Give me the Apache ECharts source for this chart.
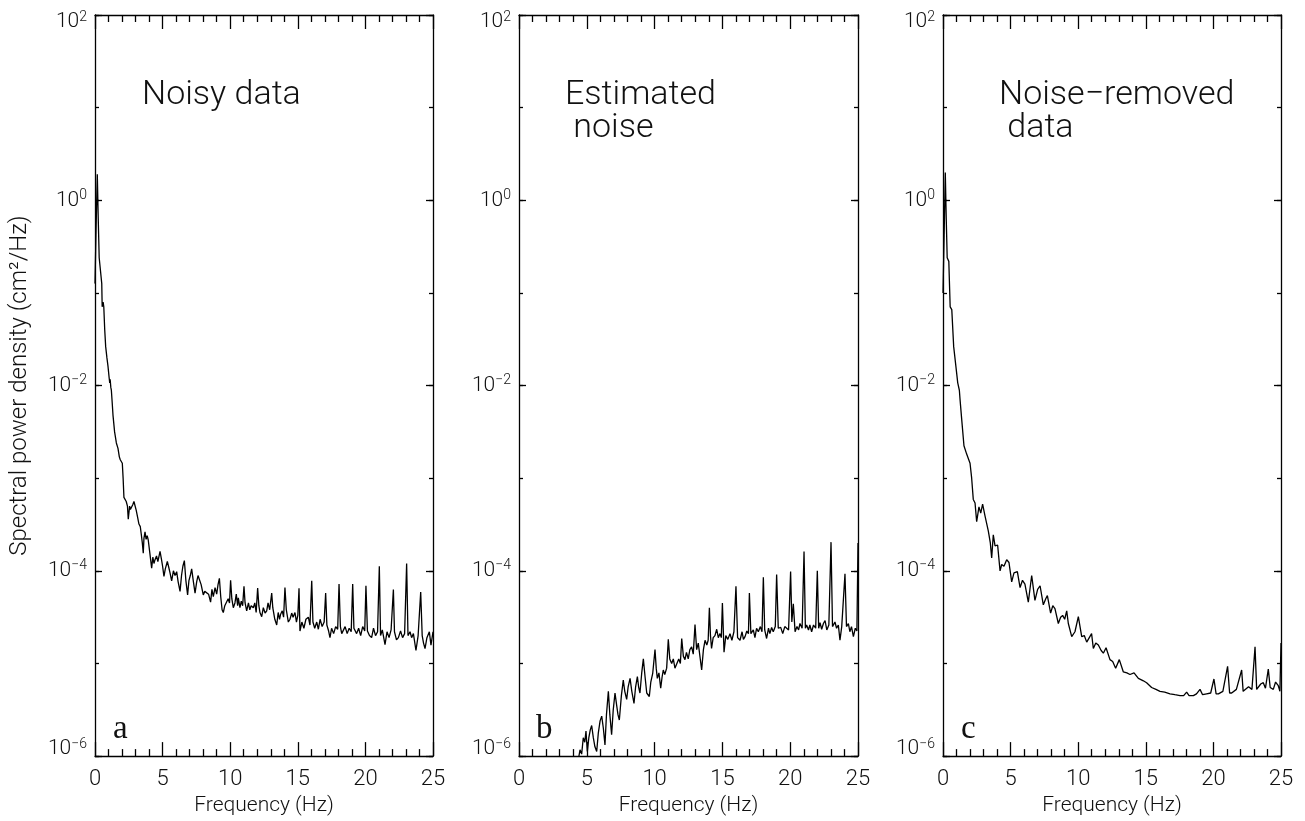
<!DOCTYPE html>
<html>
<head>
<meta charset="utf-8">
<script src="https://cdn.jsdelivr.net/npm/echarts@6/dist/echarts.min.js"></script>
<style>
html,body{margin:0;padding:0;background:#fff;}
#chart{width:1305px;height:821px;}
</style>
</head>
<body>
<div id="chart"></div>
<script>
// ---------------- data ----------------
const panelTitles = [["Noisy data"], ["Estimated", " noise"], ["Noise\u2212removed", " data"]];
const panelLetters = ["a", "b", "c"];
const xTickLabels = [0, 5, 10, 15, 20, 25];
const yExponents = [-6, -4, -2, 0, 2];

// Panel a : noisy data
const freqA = [0,0.08,0.17,0.24,0.31,0.43,0.50,0.53,0.60,0.65,0.72,0.79,0.88,0.96,1.05,1.09,1.12,1.17,1.21,1.27,1.33,1.45,1.58,1.70,1.80,1.87,2.02,2.08,2.14,2.22,2.31,2.40,2.46,2.56,2.62,2.70,2.80,2.88,2.96,3.05,3.15,3.25,3.35,3.42,3.50,3.57,3.62,3.70,3.78,3.86,3.94,4.05,4.19,4.28,4.36,4.44,4.55,4.65,4.81,4.92,5.00,5.10,5.20,5.35,5.45,5.55,5.67,5.80,5.92,6.04,6.15,6.29,6.40,6.50,6.61,6.72,6.85,6.95,7.05,7.15,7.28,7.40,7.52,7.62,7.72,7.85,8.01,8.12,8.26,8.40,8.55,8.65,8.75,8.88,9.00,9.10,9.20,9.30,9.40,9.49,9.60,9.74,9.85,9.95,10.03,10.12,10.23,10.35,10.45,10.55,10.60,10.72,10.82,10.92,11.02,11.10,11.22,11.35,11.45,11.55,11.71,11.82,11.92,12.03,12.12,12.20,12.33,12.45,12.58,12.70,12.80,12.92,13.07,13.15,13.30,13.44,13.55,13.65,13.73,13.85,13.95,14.05,14.15,14.30,14.42,14.55,14.65,14.79,14.90,15.00,15.09,15.16,15.30,15.45,15.60,15.78,15.90,16.03,16.12,16.25,16.40,16.52,16.65,16.80,16.95,17.06,17.15,17.28,17.38,17.50,17.65,17.80,17.95,18.05,18.15,18.25,18.37,18.50,18.65,18.80,18.95,19.06,19.15,19.35,19.50,19.65,19.80,19.95,20.04,20.15,20.30,20.46,20.60,20.75,20.90,21.03,21.12,21.25,21.45,21.60,21.75,21.90,22.07,22.15,22.30,22.44,22.60,22.75,22.90,23.05,23.15,23.30,23.42,23.55,23.74,23.90,24.09,24.20,24.30,24.41,24.55,24.73,24.85,25.00];
const psdA = [0.126,0.50,1.91,0.63,0.24,0.229,0.126,0.0708,0.0794,0.0708,0.0398,0.0263,0.0200,0.0162,0.0120,0.0107,0.0117,0.00955,0.0089,0.0066,0.0048,0.00316,0.0024,0.0021,0.0017,0.00158,0.00145,0.0010,6.2e-4,5.9e-4,5.6e-4,5.0e-4,3.6e-4,5.0e-4,4.6e-4,4.8e-4,5.2e-4,5.6e-4,5.5e-4,4.5e-4,3.8e-4,3.2e-4,3.0e-4,2.5e-4,2.0e-4,1.55e-4,2.24e-4,2.63e-4,2.19e-4,2.4e-4,2.14e-4,1.58e-4,1.07e-4,1.41e-4,1.20e-4,1.32e-4,1.45e-4,1.26e-4,1.62e-4,1.32e-4,1.12e-4,8.7e-5,1.05e-4,1.26e-4,1.10e-4,9.5e-5,7.8e-5,1.0e-4,8.9e-5,9.8e-5,7.6e-5,6.0e-5,8.9e-5,1.12e-4,1.29e-4,7.9e-5,5.5e-5,7.9e-5,8.9e-5,1.05e-4,7.6e-5,5.75e-5,7.6e-5,8.9e-5,9.1e-5,7.1e-5,5.5e-5,6.0e-5,6.3e-5,5.6e-5,4.6e-5,6.3e-5,5.25e-5,6.6e-5,5.6e-5,7.1e-5,8.3e-5,5.25e-5,3.8e-5,3.55e-5,4.2e-5,4.4e-5,5.0e-5,4.5e-5,7.9e-5,5.0e-5,4.0e-5,4.5e-5,5.6e-5,4.2e-5,5.1e-5,4.0e-5,4.7e-5,4.2e-5,6.8e-5,4.5e-5,3.7e-5,4.5e-5,3.8e-5,4.2e-5,4.0e-5,4.5e-5,3.55e-5,6.5e-5,4.2e-5,3.55e-5,3.2e-5,4.0e-5,3.5e-5,3.7e-5,4.5e-5,3.8e-5,5.75e-5,4.0e-5,3.0e-5,2.6e-5,3.55e-5,3.0e-5,3.4e-5,3.7e-5,3.16e-5,6.6e-5,3.8e-5,2.8e-5,3.0e-5,3.5e-5,3.16e-5,3.55e-5,2.8e-5,3.3e-5,6.5e-5,2.24e-5,2.8e-5,2.4e-5,3.0e-5,3.16e-5,2.6e-5,7.8e-5,2.8e-5,2.4e-5,2.8e-5,2.34e-5,3.0e-5,2.5e-5,2.8e-5,5.75e-5,2.6e-5,2.24e-5,1.9e-5,2.4e-5,2.1e-5,2.5e-5,2.34e-5,7.2e-5,2.5e-5,2.1e-5,2.2e-5,2.5e-5,2.1e-5,2.4e-5,2.2e-5,7.2e-5,2.4e-5,2.1e-5,2.4e-5,2.0e-5,2.5e-5,2.24e-5,6.9e-5,2.24e-5,2.0e-5,1.9e-5,2.4e-5,2.0e-5,2.2e-5,1.12e-4,2.0e-5,2.3e-5,1.6e-5,2.2e-5,1.9e-5,2.3e-5,6.3e-5,2.2e-5,1.8e-5,1.9e-5,2.24e-5,1.9e-5,2.1e-5,1.2e-4,2.0e-5,2.2e-5,1.9e-5,2.1e-5,1.38e-5,2.0e-5,5.9e-5,2.0e-5,1.66e-5,1.45e-5,1.9e-5,2.2e-5,1.58e-5,2.2e-5];

// Panel b : estimated noise
const freqB = [4.00,4.30,4.50,4.62,4.74,4.85,4.94,5.04,5.15,5.25,5.36,5.48,5.60,5.73,5.85,5.98,6.10,6.22,6.34,6.45,6.59,6.70,6.83,6.95,7.08,7.20,7.30,7.40,7.55,7.69,7.80,7.94,8.05,8.19,8.32,8.48,8.60,8.73,8.82,8.92,9.05,9.17,9.30,9.42,9.52,9.61,9.72,9.86,10.03,10.12,10.20,10.32,10.45,10.55,10.64,10.75,10.89,11.01,11.12,11.26,11.38,11.50,11.63,11.78,11.90,12.00,12.12,12.24,12.35,12.48,12.60,12.73,12.85,12.98,13.10,13.22,13.35,13.47,13.60,13.72,13.85,13.95,14.04,14.12,14.20,14.32,14.45,14.58,14.70,14.82,14.92,15.00,15.12,15.25,15.40,15.56,15.70,15.85,16.00,16.12,16.30,16.45,16.55,16.67,16.80,16.92,16.99,17.10,17.28,17.40,17.52,17.65,17.80,17.92,18.02,18.12,18.26,18.40,18.50,18.63,18.75,18.90,19.00,19.12,19.30,19.45,19.60,19.74,19.88,20.03,20.12,20.23,20.36,20.50,20.62,20.72,20.88,21.02,21.12,21.21,21.35,21.45,21.58,21.72,21.88,22.00,22.10,22.20,22.32,22.45,22.57,22.70,22.85,23.01,23.12,23.30,23.42,23.55,23.67,23.80,23.92,24.04,24.15,24.29,24.40,24.52,24.66,24.80,24.92,25.00];
const psdB = [5.0e-7,7.9e-7,1.17e-6,1.05e-6,1.58e-6,1.41e-6,1.86e-6,1.12e-6,1.58e-6,1.9e-6,2.14e-6,1.58e-6,1.26e-6,1.12e-6,1.78e-6,2.4e-6,2.7e-6,2.0e-6,1.32e-6,2.8e-6,5.0e-6,2.8e-6,1.7e-6,3.16e-6,4.8e-6,3.55e-6,2.8e-6,2.45e-6,4.5e-6,6.6e-6,5.0e-6,4.1e-6,5.6e-6,6.9e-6,5.0e-6,3.7e-6,5.6e-6,7.2e-6,5.6e-6,4.8e-6,7.9e-6,1.12e-5,7.1e-6,4.8e-6,5.0e-6,4.4e-6,6.3e-6,7.8e-6,1.41e-5,8.9e-6,6.9e-6,7.9e-6,5.4e-6,7.1e-6,8.5e-6,7.6e-6,8.9e-6,1.82e-5,1.12e-5,1.0e-5,1.12e-5,8.9e-6,8.5e-6,1.12e-5,1.0e-5,1.86e-5,1.2e-5,1.1e-5,1.32e-5,1.12e-5,1.41e-5,1.51e-5,1.26e-5,2.63e-5,1.41e-5,1.66e-5,1.58e-5,8.5e-6,1.41e-5,1.78e-5,1.58e-5,1.78e-5,3.98e-5,2.0e-5,1.45e-5,1.9e-5,2.0e-5,2.34e-5,1.9e-5,2.1e-5,1.9e-5,4.5e-5,1.32e-5,2.0e-5,1.82e-5,2.1e-5,1.78e-5,2.2e-5,6.8e-5,1.9e-5,1.78e-5,2.2e-5,1.82e-5,1.95e-5,2.24e-5,2.1e-5,5.75e-5,2.1e-5,2.3e-5,1.9e-5,2.4e-5,2.2e-5,2.5e-5,2.2e-5,8.5e-5,2.3e-5,1.86e-5,2.4e-5,2.1e-5,2.45e-5,2.2e-5,2.5e-5,9.1e-5,2.4e-5,2.45e-5,2.1e-5,2.5e-5,2.6e-5,2.3e-5,9.8e-5,2.8e-5,4.4e-5,2.2e-5,2.5e-5,2.3e-5,2.7e-5,2.4e-5,1.62e-4,2.4e-5,2.6e-5,2.3e-5,2.6e-5,2.2e-5,2.6e-5,2.4e-5,1.0e-4,2.4e-5,2.75e-5,2.34e-5,2.7e-5,2.9e-5,2.3e-5,2.6e-5,2.04e-4,2.5e-5,2.8e-5,2.4e-5,2.6e-5,1.78e-5,2.5e-5,2.4e-5,9.3e-5,2.5e-5,2.7e-5,2.2e-5,2.5e-5,1.95e-5,2.4e-5,2.24e-5,2.0e-4];

// Panel c : noise-removed data
const freqC = [0.00,0.08,0.17,0.24,0.31,0.43,0.53,0.65,0.79,0.96,1.09,1.21,1.26,1.38,1.55,1.75,2.00,2.12,2.24,2.37,2.49,2.66,2.79,2.93,3.11,3.35,3.50,3.60,3.72,3.85,4.04,4.22,4.34,4.51,4.71,4.88,5.08,5.25,5.50,5.70,5.88,6.06,6.31,6.56,6.80,7.00,7.18,7.42,7.60,7.72,7.96,8.12,8.28,8.53,8.70,8.85,9.00,9.15,9.27,9.52,9.76,10.01,10.26,10.45,10.63,10.99,11.12,11.30,11.49,11.70,11.86,12.06,12.35,12.55,12.77,13.04,13.34,13.60,13.83,14.13,14.45,14.82,15.06,15.43,15.75,16.05,16.40,16.79,17.15,17.53,17.80,18.02,18.20,18.52,18.75,19.01,19.20,19.50,19.80,20.04,20.20,20.37,20.70,21.05,21.20,21.35,21.70,22.09,22.20,22.34,22.60,22.85,23.08,23.20,23.32,23.50,23.69,23.85,24.06,24.20,24.43,24.60,24.80,24.92,25.00];
const psdC = [0.10,0.40,2.0,0.63,0.24,0.219,0.0708,0.066,0.0263,0.0158,0.0107,0.0089,0.0071,0.00437,0.00224,0.00182,0.00145,0.0010,5.9e-4,5.4e-4,3.4e-4,4.9e-4,4.2e-4,5.25e-4,3.9e-4,2.7e-4,2.0e-4,1.38e-4,2.45e-4,1.86e-4,1.9e-4,1.0e-4,1.17e-4,1.12e-4,1.32e-4,1.23e-4,7.6e-5,9.5e-5,9.8e-5,6.6e-5,7.9e-5,7.2e-5,4.6e-5,8.9e-5,4.8e-5,6.3e-5,6.9e-5,4.3e-5,5.0e-5,5.4e-5,3.5e-5,4.2e-5,3.9e-5,2.7e-5,3.16e-5,3.3e-5,3.0e-5,3.7e-5,2.7e-5,1.95e-5,2.2e-5,3.2e-5,1.95e-5,2.0e-5,1.7e-5,2.1e-5,1.45e-5,1.66e-5,1.58e-5,1.38e-5,1.29e-5,1.48e-5,1.1e-5,1.05e-5,8.9e-6,1.1e-5,8.1e-6,7.9e-6,7.6e-6,7.9e-6,6.9e-6,6.5e-6,6.2e-6,5.5e-6,5.25e-6,5.0e-6,4.9e-6,4.7e-6,4.6e-6,4.5e-6,4.5e-6,4.9e-6,4.5e-6,4.5e-6,4.7e-6,5.25e-6,4.6e-6,4.7e-6,4.8e-6,6.8e-6,4.7e-6,4.7e-6,5.0e-6,9.3e-6,4.8e-6,4.8e-6,5.25e-6,8.5e-6,5.0e-6,5.0e-6,5.6e-6,5.25e-6,1.51e-5,5.25e-6,5.25e-6,6.0e-6,6.2e-6,5.4e-6,8.7e-6,5.5e-6,5.25e-6,6.3e-6,5.75e-6,5.0e-6,1.66e-5];

// ---------------- chart ----------------
const FONT = "Roboto, 'DejaVu Sans', sans-serif";
const INK = '#111';
const gridBoxes = [
  {left: 95, top: 11, width: 338, height: 749},
  {left: 519, top: 11, width: 339, height: 749},
  {left: 943, top: 11, width: 338, height: 749}
];
const seriesData = [[freqA, psdA], [freqB, psdB], [freqC, psdC]];
const lineW = 1.3;

function expLabel(e) {
  const s = (e < 0 ? '\u2212' : '') + Math.abs(e);
  if (e === yExponents[yExponents.length - 1]) return '{t| }\n{b|10}{s|' + s + '}';
  if (e === yExponents[0]) return '{b|10}{s|' + s + '}\n{t| }';
  return '{b|10}{s|' + s + '}';
}

const xAxes = [], yAxes = [], series = [];
gridBoxes.forEach((g, i) => {
  const xBase = {
    gridIndex: i, type: 'value', min: 0, max: 25, interval: 5,
    axisLine: {show: true, onZero: false, lineStyle: {color: '#000', width: lineW}},
    axisTick: {show: true, inside: true, length: 14, lineStyle: {color: '#000', width: lineW}},
    minorTick: {show: true, splitNumber: 5, length: 7, lineStyle: {color: '#000', width: lineW}},
    splitLine: {show: false}, minorSplitLine: {show: false}
  };
  xAxes.push(Object.assign({}, xBase, {
    position: 'bottom',
    axisLabel: {show: true, margin: 12, fontSize: 22, fontFamily: FONT, fontWeight: 300, color: INK,
      formatter: v => xTickLabels.indexOf(v) >= 0 ? String(v) : ''},
    name: 'Frequency (Hz)', nameLocation: 'middle', nameGap: 33,
    nameTextStyle: {fontSize: 21, fontFamily: FONT, fontWeight: 300, color: INK}
  }));
  xAxes.push(Object.assign({}, xBase, {position: 'top', axisLabel: {show: false}}));

  // data axis (log), left, short decade ticks + labels on even decades
  yAxes.push({
    gridIndex: i, type: 'log', logBase: 10, min: 1e-6, max: 1e2, interval: 1, position: 'left',
    axisLine: {show: true, lineStyle: {color: '#000', width: lineW}},
    axisTick: {show: true, inside: true, length: 4, lineStyle: {color: '#000', width: lineW}},
    splitLine: {show: false},
    axisLabel: {
      show: true, margin: 8, color: INK,
      formatter: v => {
        const e = Math.round(Math.log10(v));
        return yExponents.indexOf(e) >= 0 ? expLabel(e) : '';
      },
      rich: {
        b: {fontSize: 21, lineHeight: 24, fontFamily: FONT, fontWeight: 300, color: INK},
        s: {fontSize: 14, lineHeight: 14, verticalAlign: 'top', fontFamily: FONT, fontWeight: 300, color: INK},
        t: {fontSize: 6, lineHeight: 14}
      }
    },
    name: i === 0 ? 'Spectral power density (cm\u00b2/Hz)' : '',
    nameLocation: 'middle', nameGap: 63, nameRotate: 90,
    nameTextStyle: {fontSize: 24, fontFamily: FONT, fontWeight: 300, color: INK}
  });
  // long ticks at the labelled decades (left)
  yAxes.push({
    gridIndex: i, type: 'value', min: -6, max: 2, interval: 2, position: 'left',
    axisLine: {show: false}, axisLabel: {show: false}, splitLine: {show: false},
    axisTick: {show: true, inside: true, length: 7, lineStyle: {color: '#000', width: lineW}}
  });
  // right side mirrored ticks
  yAxes.push({
    gridIndex: i, type: 'log', logBase: 10, min: 1e-6, max: 1e2, interval: 1, position: 'right',
    axisLine: {show: true, lineStyle: {color: '#000', width: lineW}}, axisLabel: {show: false}, splitLine: {show: false},
    axisTick: {show: true, inside: true, length: 4, lineStyle: {color: '#000', width: lineW}}
  });
  yAxes.push({
    gridIndex: i, type: 'value', min: -6, max: 2, interval: 2, position: 'right',
    axisLine: {show: false}, axisLabel: {show: false}, splitLine: {show: false},
    axisTick: {show: true, inside: true, length: 7, lineStyle: {color: '#000', width: lineW}}
  });

  const fx = seriesData[i][0], fy = seriesData[i][1];
  series.push({
    type: 'line', xAxisIndex: 2 * i, yAxisIndex: 4 * i,
    data: fx.map((f, k) => [f, fy[k]]),
    showSymbol: false, symbol: 'none', clip: true, animation: false,
    lineStyle: {color: '#000', width: 1.3}
  });
});

// panel texts
const graphics = [];
const titlePos = [[142, 78], [565, 78], [999, 78]];
panelTitles.forEach((lines, i) => {
  lines.forEach((t, j) => {
    graphics.push({type: 'text', left: titlePos[i][0], top: titlePos[i][1] + j * 33,
      style: {text: t, fontSize: 34, fontFamily: FONT, fontWeight: 300, fill: INK}});
  });
});
const letterX = [113, 536, 961];
panelLetters.forEach((t, i) => {
  graphics.push({type: 'text', left: letterX[i], top: 713,
    style: {text: t, fontSize: 33, fontFamily: "'Liberation Serif', 'Times New Roman', serif", fill: INK}});
});

const chart = echarts.init(document.getElementById('chart'), null, {renderer: 'canvas'});
chart.setOption({
  animation: false,
  backgroundColor: '#fff',
  grid: gridBoxes.map(g => Object.assign({containLabel: false}, g)),
  xAxis: xAxes,
  yAxis: yAxes,
  series: series,
  graphic: graphics
});
</script>
</body>
</html>
